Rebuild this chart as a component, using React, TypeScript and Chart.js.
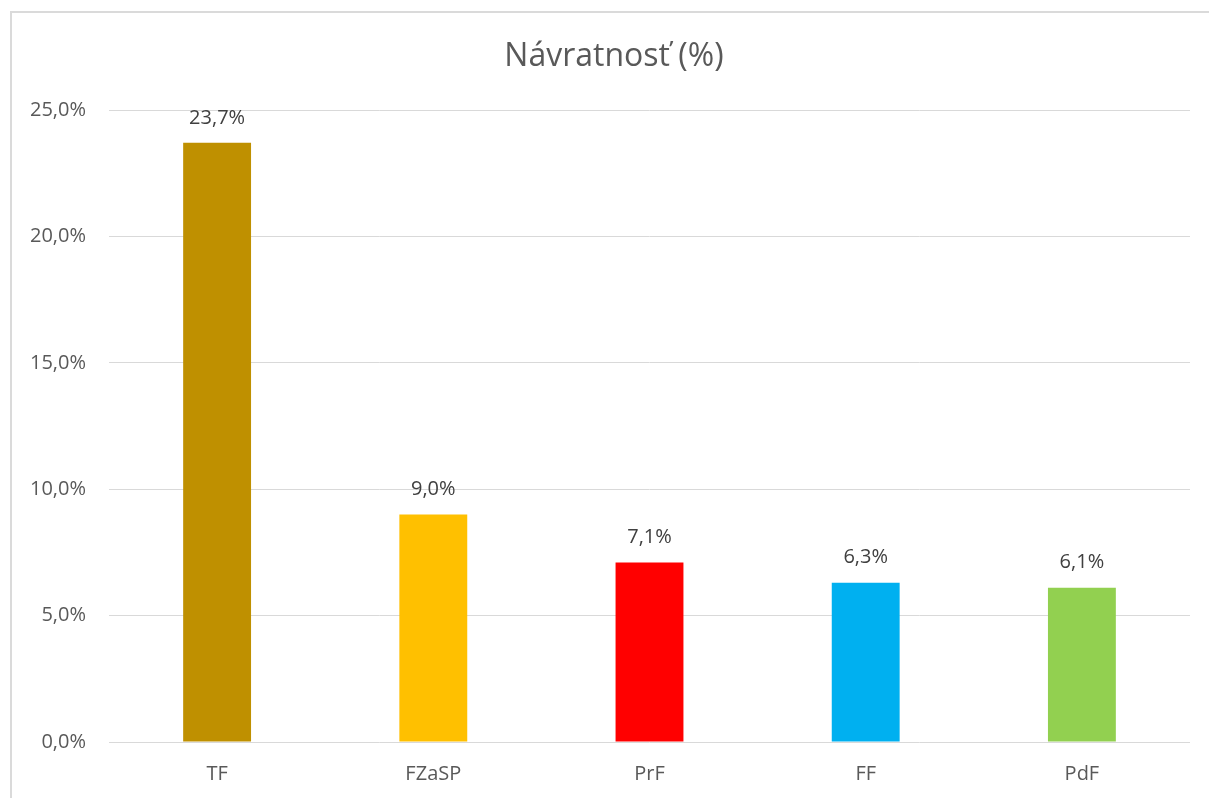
import React, { useEffect, useRef } from "react";
import { Chart, registerables } from "chart.js";

Chart.register(...registerables);

const categories = ["TF", "FZaSP", "PrF", "FF", "PdF"];
const values = [23.7, 9.0, 7.1, 6.3, 6.1];
const barColors = ["#BF9000", "#FFC000", "#FF0000", "#00B0F0", "#92D050"];
const titleText = "Návratnosť (%)";
const yMax = 25;
const yStep = 5;

const fmt = (v: number) => v.toFixed(1).replace(".", ",") + "%";

const FONT = "'Open Sans', sans-serif";

const valueLabels = {
  id: "valueLabels",
  afterDatasetsDraw(chart: any) {
    const ctx = chart.ctx;
    const meta = chart.getDatasetMeta(0);
    ctx.save();
    ctx.font = `20px ${FONT}`;
    ctx.fillStyle = "#404040";
    ctx.textAlign = "center";
    ctx.textBaseline = "middle";
    meta.data.forEach((bar: any, i: number) => {
      ctx.fillText(fmt(values[i]), bar.x, bar.y - 25);
    });
    ctx.restore();
  },
};

const chartTitle = {
  id: "chartTitle",
  afterDraw(chart: any) {
    const ctx = chart.ctx;
    ctx.save();
    ctx.font = `32px ${FONT}`;
    ctx.fillStyle = "#595959";
    ctx.textAlign = "center";
    ctx.textBaseline = "middle";
    ctx.fillText(titleText, 614, 57);
    ctx.restore();
  },
};

export default function App() {
  const ref = useRef<HTMLCanvasElement | null>(null);
  useEffect(() => {
    if (!ref.current) return;
    const chart = new Chart(ref.current, {
      type: "bar",
      data: {
        labels: categories,
        datasets: [
          {
            data: values,
            backgroundColor: barColors,
            borderWidth: 0,
            categoryPercentage: 1,
            barPercentage: 0.314,
          },
        ],
      },
      options: {
        animation: false,
        responsive: false,
        maintainAspectRatio: false,
        layout: { padding: { left: 0, right: 19, top: 110, bottom: 0 } },
        plugins: {
          legend: { display: false },
          tooltip: { enabled: false },
          title: { display: false },
        },
        scales: {
          x: {
            grid: { display: false },
            border: { display: false },
            ticks: {
              color: "#595959",
              font: { family: FONT, size: 20 },
              padding: 12,
            },
            afterFit: (s: any) => {
              s.height = 56;
            },
          },
          y: {
            min: 0,
            max: yMax,
            ticks: {
              stepSize: yStep,
              color: "#595959",
              font: { family: FONT, size: 20 },
              padding: 23,
              callback: (v: any) => fmt(Number(v)),
            },
            grid: { color: "#d9d9d9", lineWidth: 1, drawTicks: false },
            border: { display: false },
            afterFit: (s: any) => {
              s.width = 109;
            },
          },
        },
      },
      plugins: [valueLabels, chartTitle],
    });
    return () => chart.destroy();
  }, []);

  return (
    <div
      style={{
        position: "fixed",
        left: 0,
        top: 0,
        width: 1209,
        height: 798,
        overflow: "hidden",
        background: "#fff",
      }}
    >
      <div
        style={{
          position: "absolute",
          left: 10,
          top: 11,
          width: 1400,
          height: 1000,
          border: "2px solid #dadada",
          boxSizing: "border-box",
        }}
      />
      <canvas
        ref={ref}
        width={1209}
        height={798}
        style={{ position: "absolute", left: 0, top: 0 }}
      />
    </div>
  );
}
